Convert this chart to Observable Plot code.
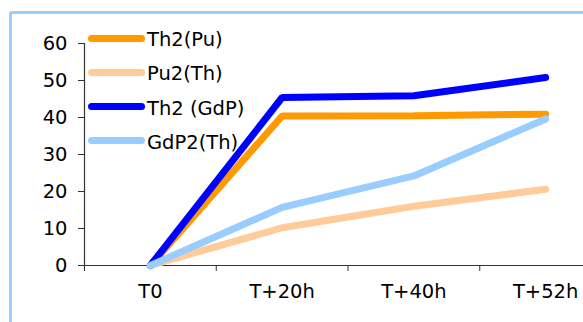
<!DOCTYPE html>
<html><head><meta charset="utf-8">
<script src="https://cdn.jsdelivr.net/npm/d3@7"></script>
<script src="https://cdn.jsdelivr.net/npm/@observablehq/plot@0.6"></script>
<style>
html,body{margin:0;padding:0;background:#fff;overflow:hidden;}
#wrap{position:relative;width:583px;height:322px;overflow:hidden;background:#fff;}
#frame{position:absolute;left:9px;top:11px;width:700px;height:500px;border:3px solid #99CCFF;border-radius:3px;}
#chart{position:absolute;left:0;top:0;}
#legend{position:absolute;left:0;top:0;font-family:"DejaVu Sans";font-size:19.5px;color:#000;}
.row{position:absolute;left:88px;height:20px;display:flex;align-items:center;white-space:nowrap;}
.sw{width:57px;height:7px;border-radius:3.5px;margin-right:2px;}
.lt{position:relative;top:1.5px;}
</style>
</head><body>
<div id="wrap"><div id="frame"></div><div id="chart"></div><div id="legend"></div></div>
<script>
const categories = ["T0", "T+20h", "T+40h", "T+52h"];
const seriesNames = ["Th2(Pu)", "Pu2(Th)", "Th2 (GdP)", "GdP2(Th)"];
const th2Pu  = [0, 40.4, 40.5, 40.9];
const pu2Th  = [0, 10.2, 16.0, 20.6];
const th2GdP = [0, 45.4, 45.9, 50.8];
const gdP2Th = [0, 15.7, 24.2, 39.6];
const seriesValues = [th2Pu, pu2Th, th2GdP, gdP2Th];
const colors = ["#FF9900", "#FFCC99", "#0000FF", "#99CCFF"];
const yTicks = [0, 10, 20, 30, 40, 50, 60];

const rows = [];
seriesNames.forEach((s, k) => {
  seriesValues[k].forEach((v, i) => rows.push({series: s, k, x: i + 0.5, cat: categories[i], y: v}));
});

const font = "DejaVu Sans";
const fs = 19.5;
const chart = Plot.plot({
  width: 583, height: 322,
  marginLeft: 84, marginRight: -28, marginTop: 43, marginBottom: 57,
  style: {fontFamily: font, fontSize: fs + "px", color: "#000", background: "transparent", overflow: "visible"},
  x: {type: "linear", domain: [0, 4]},
  y: {domain: [0, 60]},
  marks: [
    Plot.axisY({ticks: yTicks, tickSize: 6, tickPadding: 11, tickFormat: d => String(d), label: null, fontSize: fs, fontFamily: font, stroke: "#333"}),
    Plot.axisX({ticks: [0, 1, 2, 3], tickSize: 6, tickFormat: () => "", label: null, stroke: "#333"}),
    Plot.axisX({ticks: categories.map((d, i) => i + 0.5), tickSize: 0, tickPadding: 19, tickFormat: d => categories[Math.floor(d)], label: null, fontSize: fs, fontFamily: font}),
    Plot.ruleY([0], {stroke: "#333", strokeWidth: 1.2}),
    Plot.ruleX([0], {stroke: "#333", strokeWidth: 1.2}),
    ...seriesNames.map((s, k) => Plot.line(rows.filter(r => r.series === s), {
      x: "x", y: "y", stroke: colors[k], strokeWidth: 7, strokeLinecap: "round", strokeLinejoin: "miter"
    }))
  ]
});
document.getElementById("chart").appendChild(chart);

const legend = document.getElementById("legend");
seriesNames.forEach((s, k) => {
  const row = document.createElement("div");
  row.className = "row";
  row.style.top = (28 + k * 34.3) + "px";
  const sw = document.createElement("div");
  sw.className = "sw";
  sw.style.background = colors[k];
  const t = document.createElement("span");
  t.className = "lt";
  t.textContent = s;
  row.appendChild(sw); row.appendChild(t);
  legend.appendChild(row);
});
</script>
</body></html>
